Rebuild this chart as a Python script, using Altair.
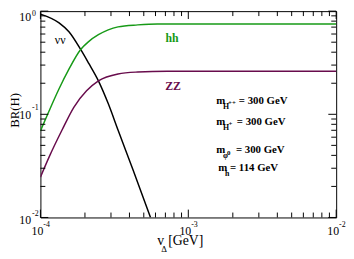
import altair as alt
import pandas as pd

# ---- data ----
v_nunu = [1.0e-4, 1.337e-4, 1.559e-4, 1.871e-4, 2.118e-4, 2.467e-4, 2.874e-4, 3.348e-4, 4.214e-4, 5.549e-4]
br_nunu = [0.936, 0.769, 0.631, 0.425, 0.313, 0.211, 0.127, 0.0704, 0.0293, 0.010]

v_hh = [1.0e-4, 1.148e-4, 1.337e-4, 1.559e-4, 1.871e-4, 2.118e-4, 2.467e-4, 2.874e-4, 3.348e-4, 4.55e-4, 6.18e-4, 1.0e-3, 1.0e-2]
br_hh = [0.0689, 0.109, 0.177, 0.274, 0.425, 0.507, 0.591, 0.659, 0.704, 0.736, 0.752, 0.752, 0.752]

v_zz = [1.0e-4, 1.148e-4, 1.40e-4, 1.682e-4, 2.051e-4, 2.467e-4, 3.348e-4, 4.55e-4, 7.2e-4, 1.0e-3, 1.0e-2]
br_zz = [0.0246, 0.0389, 0.0704, 0.117, 0.169, 0.211, 0.246, 0.257, 0.262, 0.262, 0.262]

x_major = [1e-4, 1e-3, 1e-2]
x_minor = [2e-4, 3e-4, 4e-4, 5e-4, 6e-4, 7e-4, 8e-4, 9e-4, 2e-3, 3e-3, 4e-3, 5e-3, 6e-3, 7e-3, 8e-3, 9e-3]
x_exp = ["-4", "-3", "-2"]
y_major = [1e-2, 1e-1, 1.0]
y_minor = [0.02, 0.03, 0.04, 0.05, 0.06, 0.07, 0.08, 0.09, 0.2, 0.3, 0.4, 0.5, 0.6, 0.7, 0.8, 0.9]
y_exp = ["-2", "-1", "0"]

labels = ["νν", "hh", "ZZ"]
label_v = [1.36e-4, 7.77e-4, 7.88e-4]
label_br = [0.53, 0.545, 0.189]

leg_v = 1.545e-3
leg_br = [0.126, 0.0794, 0.0421, 0.0283]
leg_sub = ["H", "H", "φ", "h"]
leg_sup = ["++", "+", "0", ""]
leg_rest = ["= 300 GeV", "= 300 GeV", "= 300 GeV", "= 114 GeV"]

BLACK = "#000000"
GREEN = "#179a17"
PURPLE = "#680c4c"
SERIF = "Liberation Serif"

W, H = 301, 210
xs = alt.Scale(type="log", domain=[1e-4, 1e-2])
ys = alt.Scale(type="log", domain=[1e-2, 1.0])


def X(f="v"):
    return alt.X(f"{f}:Q", scale=xs, axis=None)


def Y(f="br"):
    return alt.Y(f"{f}:Q", scale=ys, axis=None)


def curve(v, br, color):
    df = pd.DataFrame({"v": v, "br": br})
    return alt.Chart(df).mark_line(color=color, strokeWidth=1.5, clip=True,
                                   interpolate="monotone").encode(x=X(), y=Y())


lines = [curve(v_nunu, br_nunu, BLACK), curve(v_hh, br_hh, GREEN), curve(v_zz, br_zz, PURPLE)]


def xticks(vals, y0, y1):
    return alt.Chart(pd.DataFrame({"v": vals})).mark_rule(color=BLACK, strokeWidth=1).encode(
        x=X(), y=alt.value(y0), y2=alt.value(y1))


def yticks(vals, x0, x1):
    return alt.Chart(pd.DataFrame({"br": vals})).mark_rule(color=BLACK, strokeWidth=1).encode(
        y=Y(), x=alt.value(x0), x2=alt.value(x1))


MAJ, MIN = 8, 5
ticks = [
    xticks(x_major, H, H - MAJ), xticks(x_minor, H, H - MIN),
    xticks(x_major, 0, MAJ), xticks(x_minor, 0, MIN),
    yticks(y_major, 0, MAJ), yticks(y_minor, 0, MIN),
    yticks(y_major, W, W - MAJ), yticks(y_minor, W, W - MIN),
]

xl = pd.DataFrame({"v": x_major, "base": ["10"] * 3, "exp": x_exp})
yl = pd.DataFrame({"br": y_major, "base": ["10"] * 3, "exp": y_exp})

tick_labels = [
    alt.Chart(xl).mark_text(font=SERIF, fontSize=12, align="center", baseline="middle", dx=-3,
                            color=BLACK).encode(x=X(), y=alt.value(224), text="base:N"),
    alt.Chart(xl).mark_text(font=SERIF, fontSize=8, align="left", baseline="middle", dx=3,
                            color=BLACK).encode(x=X(), y=alt.value(217.5), text="exp:N"),
]
# y labels: the top one is nudged down so it stays inside the page
y_base_dy = [3, 1, 6]
y_exp_dy = [-4, -6, 3]
for i in range(3):
    d = yl.iloc[[i]]
    tick_labels.append(alt.Chart(d).mark_text(
        font=SERIF, fontSize=12, align="right", baseline="middle", dy=y_base_dy[i],
        color=BLACK).encode(y=Y(), x=alt.value(-9.5), text="base:N"))
    tick_labels.append(alt.Chart(d).mark_text(
        font=SERIF, fontSize=8, align="left", baseline="middle", dy=y_exp_dy[i],
        color=BLACK).encode(y=Y(), x=alt.value(-8.5), text="exp:N"))

titles = [
    alt.Chart(pd.DataFrame({"t": ["BR(H)"]})).mark_text(
        font=SERIF, fontSize=13, angle=270, align="center", baseline="middle", color=BLACK
    ).encode(x=alt.value(-25.5), y=alt.value(101), text="t:N"),
    alt.Chart(pd.DataFrame({"t": ["v"]})).mark_text(
        font=SERIF, fontSize=14, align="left", baseline="alphabetic", color=BLACK
    ).encode(x=alt.value(119), y=alt.value(238), text="t:N"),
    alt.Chart(pd.DataFrame({"t": ["Δ"]})).mark_text(
        font=SERIF, fontSize=9, align="left", baseline="alphabetic", color=BLACK
    ).encode(x=alt.value(123), y=alt.value(245), text="t:N"),
    alt.Chart(pd.DataFrame({"t": ["[GeV]"]})).mark_text(
        font=SERIF, fontSize=14, align="left", baseline="alphabetic", color=BLACK
    ).encode(x=alt.value(130), y=alt.value(238), text="t:N"),
]

ann = pd.DataFrame({"v": label_v, "br": label_br, "label": labels,
                    "color": [BLACK, GREEN, PURPLE]})
annots = [
    alt.Chart(ann.iloc[[0]]).mark_text(font=SERIF, fontSize=12, baseline="middle").encode(
        x=X(), y=Y(), text="label:N", color=alt.Color("color:N", scale=None)),
    alt.Chart(ann.iloc[[1, 2]]).mark_text(font=SERIF, fontSize=12, fontWeight="bold",
                                          baseline="middle").encode(
        x=X(), y=Y(), text="label:N", color=alt.Color("color:N", scale=None)),
]

leg = pd.DataFrame({"v": [leg_v] * 4, "br": leg_br, "m": ["m"] * 4, "sub": leg_sub,
                    "sup": leg_sup, "rest": leg_rest})
sup_dx = {0: 12, 1: 12.5, 2: 11}
rest_dx = {0: 23, 1: 21, 2: 20, 3: 14}
legend_layers = []
for i in range(4):
    d = leg.iloc[[i]]
    m_dx = 2 if i == 3 else 0
    legend_layers.append(alt.Chart(d).mark_text(
        font=SERIF, fontSize=11, fontWeight="bold", align="left", baseline="alphabetic",
        dx=m_dx, color=BLACK).encode(x=X(), y=Y(), text="m:N"))
    legend_layers.append(alt.Chart(d).mark_text(
        font=SERIF, fontSize=8, fontWeight="bold", align="left", baseline="alphabetic",
        dx=m_dx + 7, dy=5, color=BLACK).encode(x=X(), y=Y(), text="sub:N"))
    if leg_sup[i]:
        legend_layers.append(alt.Chart(d).mark_text(
            font=SERIF, fontSize=7, fontWeight="bold", align="left", baseline="alphabetic",
            dx=sup_dx[i], dy=1.5, color=BLACK).encode(x=X(), y=Y(), text="sup:N"))
    legend_layers.append(alt.Chart(d).mark_text(
        font=SERIF, fontSize=11, fontWeight="bold", align="left", baseline="alphabetic",
        dx=rest_dx[i], color=BLACK).encode(x=X(), y=Y(), text="rest:N"))

chart = alt.layer(*lines, *ticks, *tick_labels, *titles, *annots, *legend_layers).properties(
    width=W, height=H,
    autosize=alt.AutoSizeParams(type="none"),
    padding={"left": 33, "top": 1, "right": 10, "bottom": 36},
    background="white",
).configure_view(stroke=BLACK, strokeWidth=1)

chart.save("out.html", embed_options={"renderer": "svg", "actions": False})
